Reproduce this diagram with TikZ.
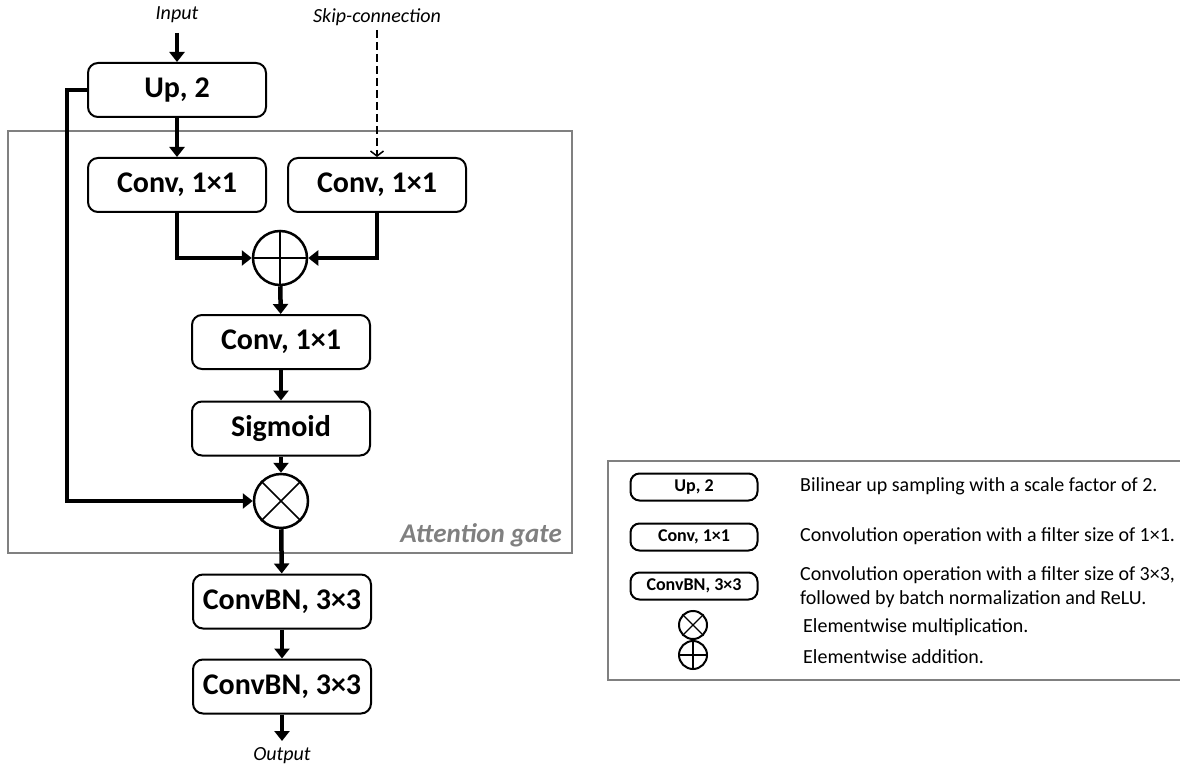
\documentclass[tikz,border=0pt]{standalone}
\usepackage{fontspec}
\setmainfont{Carlito}
\usetikzlibrary{arrows.meta}
\definecolor{frame}{HTML}{808080}

\begin{document}
\begin{tikzpicture}[x=1pt,y=-1pt,
  blk/.style={draw, line width=2pt, rounded corners=10pt, minimum width=178pt,
    minimum height=54pt, inner sep=0pt, font=\fontsize{30}{36}\selectfont\bfseries},
  lblk/.style={draw, line width=2pt, rounded corners=9pt, minimum width=127pt,
    minimum height=27pt, inner sep=0pt, font=\fontsize{18}{22}\selectfont\bfseries},
  op/.style={draw, circle, line width=2.5pt, minimum size=54pt, inner sep=0pt},
  lop/.style={draw, circle, line width=2pt, minimum size=28pt, inner sep=0pt},
  flow/.style={line width=4.5pt, -{Triangle[width=15pt,length=10pt]}},
  skipline/.style={line width=1.5pt, dash pattern=on 8pt off 4pt,
    -{Straight Barb[width=13pt,length=5pt]}},
  io/.style={font=\fontsize{20}{24}\selectfont\itshape, inner sep=0pt},
  desc/.style={font=\fontsize{20}{23.5}\selectfont, anchor=west, align=left, inner sep=0pt},
]
\useasboundingbox (0,0) rectangle (1180,767);

% attention gate frame and legend frame
\draw[frame, line width=1.5pt] (8,131) rectangle (572,553);
\node[text=frame, font=\fontsize{27}{32}\selectfont\bfseries\itshape, anchor=base east,
  inner sep=0pt] (ag) at (562,542) {Attention gate};
\draw[frame, line width=1.5pt] (1195,461) -- (608,461) -- (608,680) -- (1195,680);

% main blocks
\node[io] (inlbl) at (177,15) {Input};
\coordinate (inTop) at (177,33);
\node[blk] (up) at (177,90) {Up, 2};
\node[blk] (cl) at (177,185) {Conv, 1×1};
\node[blk] (cr) at (377,185) {Conv, 1×1};
\node[io] (sklbl) at (377,17) {Skip-connection};
\coordinate (skTop) at (377,30);
\node[op] (add) at (280,258) {};
\node[blk] (mc) at (281,342) {Conv, 1×1};
\node[blk] (sg) at (281,428.5) {Sigmoid};
\node[op] (mul) at (281,501) {};
\node[blk] (bn1) at (282,601.5) {ConvBN, 3×3};
\node[blk] (bn2) at (282,686.5) {ConvBN, 3×3};
\coordinate (outEnd) at (282,741);
\node[io] (outlbl) at (282,756) {Output};

% operator glyphs
\draw[line width=1.6pt] (add.north) -- (add.south) (add.west) -- (add.east);
\draw[line width=1.6pt] (mul.north east) -- (mul.south west)
  (mul.north west) -- (mul.south east);

% connectors
\draw[flow] (inTop) -- (up);
\draw[flow] (up) -- (cl);
\draw[skipline] (skTop) -- (cr);
\draw[flow] (cl.south) |- (add.west);
\draw[flow] (cr.south) |- (add.east);
\draw[flow] (add) -- (mc);
\draw[flow] (mc) -- (sg);
\draw[flow] (sg) -- (mul);
\draw[flow] (up.west) -- ++(-20,0) |- (mul.west);
\draw[flow] (mul) -- (bn1);
\draw[flow] (bn1) -- (bn2);
\draw[flow] (bn2) -- (outEnd);

% legend
\node[lblk] (lup) at (694,487) {Up, 2};
\node[desc] (dup) at (800,486) {Bilinear up sampling with a scale factor of 2.};
\node[lblk] (lconv) at (694,537) {Conv, 1×1};
\node[desc] (dconv) at (800,536) {Convolution operation with a filter size of 1×1.};
\node[lblk] (lbn) at (694,586) {ConvBN, 3×3};
\node[desc] (dbn) at (800,587) {Convolution operation with a filter size of 3×3,\\
  followed by batch normalization and ReLU.};
\node[lop] (lmul) at (693,625) {};
\draw[line width=1.3pt] (lmul.north east) -- (lmul.south west)
  (lmul.north west) -- (lmul.south east);
\node[desc] (dmul) at (803,627) {Elementwise multiplication.};
\node[lop] (ladd) at (693,655) {};
\draw[line width=1.3pt] (ladd.north) -- (ladd.south) (ladd.west) -- (ladd.east);
\node[desc] (dadd) at (803,657) {Elementwise addition.};
\end{tikzpicture}
\end{document}
